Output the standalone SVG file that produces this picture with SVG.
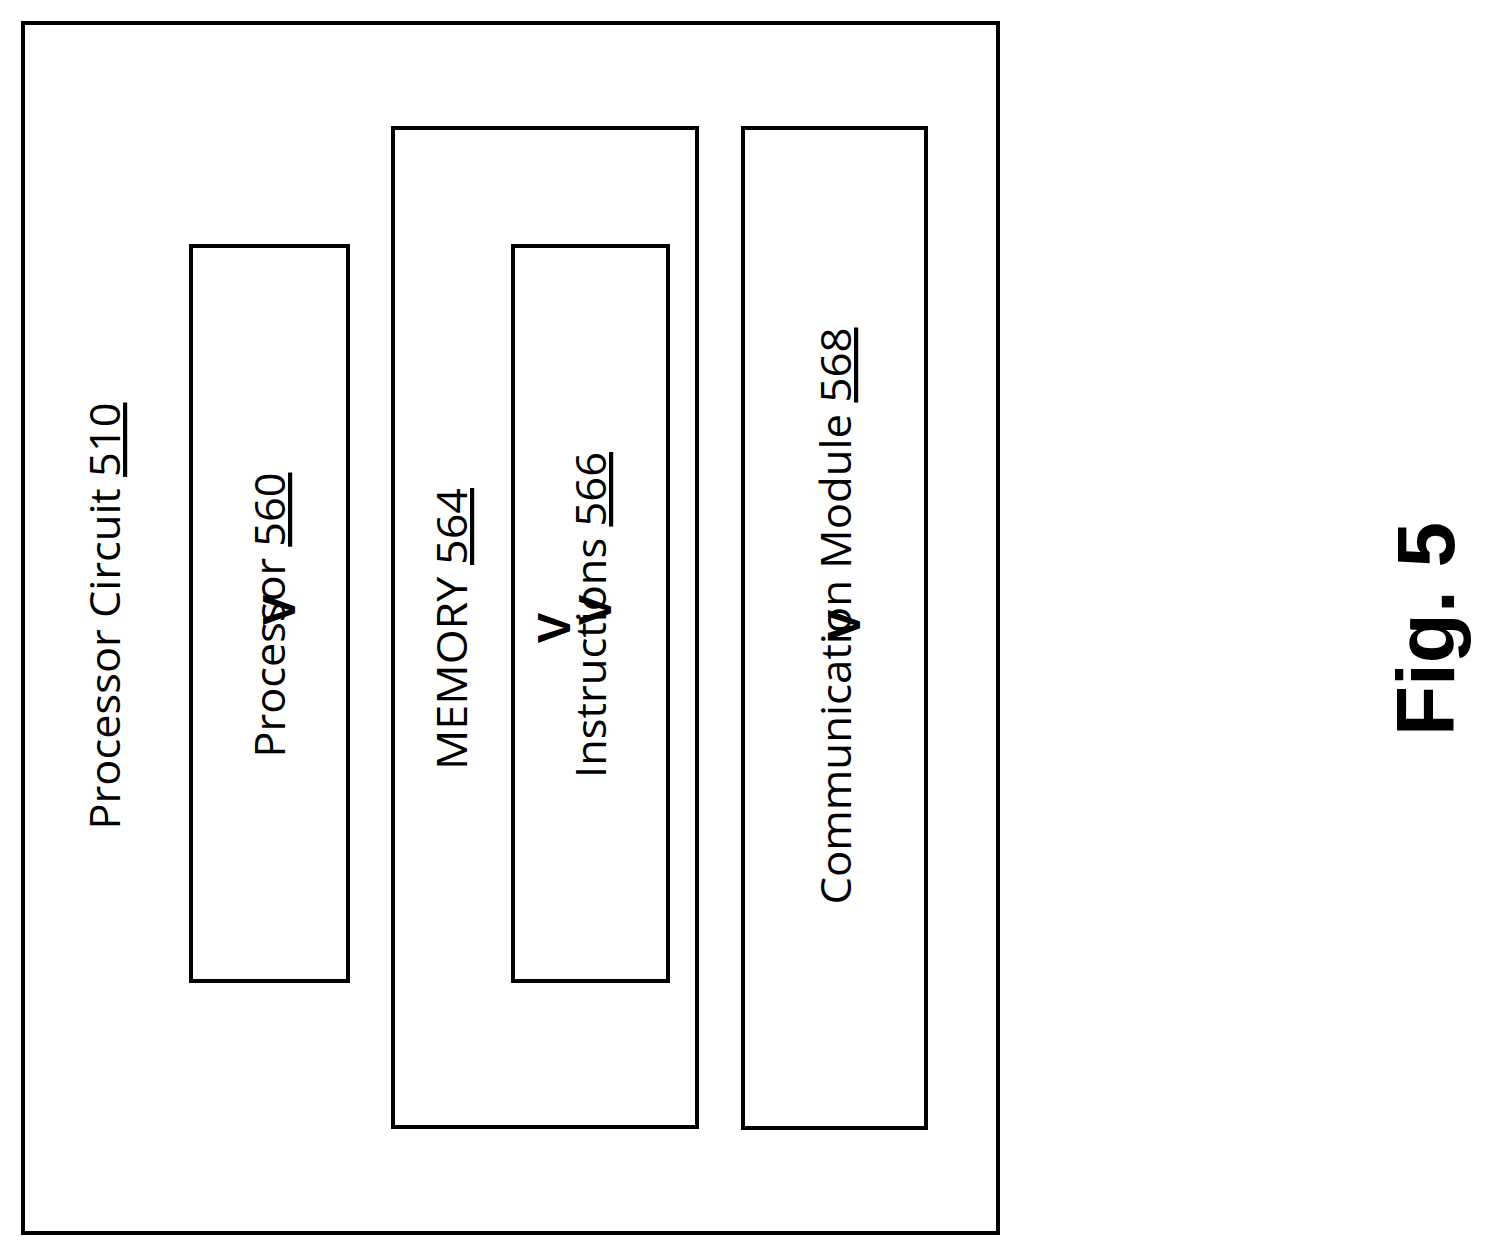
<svg xmlns="http://www.w3.org/2000/svg" width="1494" height="1257" viewBox="0 0 1494 1257">
<style>
rect{fill:none;stroke:#000;stroke-width:4}
.t{font-family:"Open Sans","DejaVu Sans",sans-serif;font-size:42px;text-anchor:middle;fill:#000}
.v{font-family:"Liberation Sans",sans-serif;font-weight:bold;font-size:46px;text-anchor:middle;fill:#000}
.f{font-family:"Liberation Sans",sans-serif;font-weight:bold;font-size:82px;text-anchor:middle;fill:#000}
</style>
<rect x="0" y="0" width="1494" height="1257" style="fill:#fff;stroke:none"/>
<g id="processor-circuit"><rect x="23" y="23" width="975" height="1210"/>
<text class="t" transform="translate(120,616) rotate(-90)" textLength="427" lengthAdjust="spacingAndGlyphs">Processor Circuit <tspan text-decoration="underline">510</tspan></text></g>
<g id="processor"><rect x="191" y="246" width="157" height="735"/>
<text class="t" transform="translate(285,615) rotate(-90)" textLength="285" lengthAdjust="spacingAndGlyphs">Processor <tspan text-decoration="underline">560</tspan></text>
<text class="v" transform="translate(295,610) rotate(-90)">V</text></g>
<g id="memory"><rect x="393" y="128" width="304" height="999"/>
<text class="t" transform="translate(467,629) rotate(-90)" textLength="282" lengthAdjust="spacingAndGlyphs">MEMORY <tspan text-decoration="underline">564</tspan></text>
<text class="v" transform="translate(570,628) rotate(-90)">V</text></g>
<g id="instructions"><rect x="513" y="246" width="155" height="735"/>
<text class="t" transform="translate(606,615) rotate(-90)" textLength="326" lengthAdjust="spacingAndGlyphs">Instructions <tspan text-decoration="underline">566</tspan></text>
<text class="v" transform="translate(611,610) rotate(-90)">V</text></g>
<g id="communication"><rect x="743" y="128" width="183" height="1000"/>
<text class="t" transform="translate(851,616) rotate(-90)" textLength="577" lengthAdjust="spacingAndGlyphs">Communication Module <tspan text-decoration="underline">568</tspan></text>
<text class="v" transform="translate(860,625) rotate(-90)">V</text></g>
<g id="connectors"></g>
<text class="f" transform="translate(1454,629) rotate(-90)">Fig. 5</text>
</svg>
